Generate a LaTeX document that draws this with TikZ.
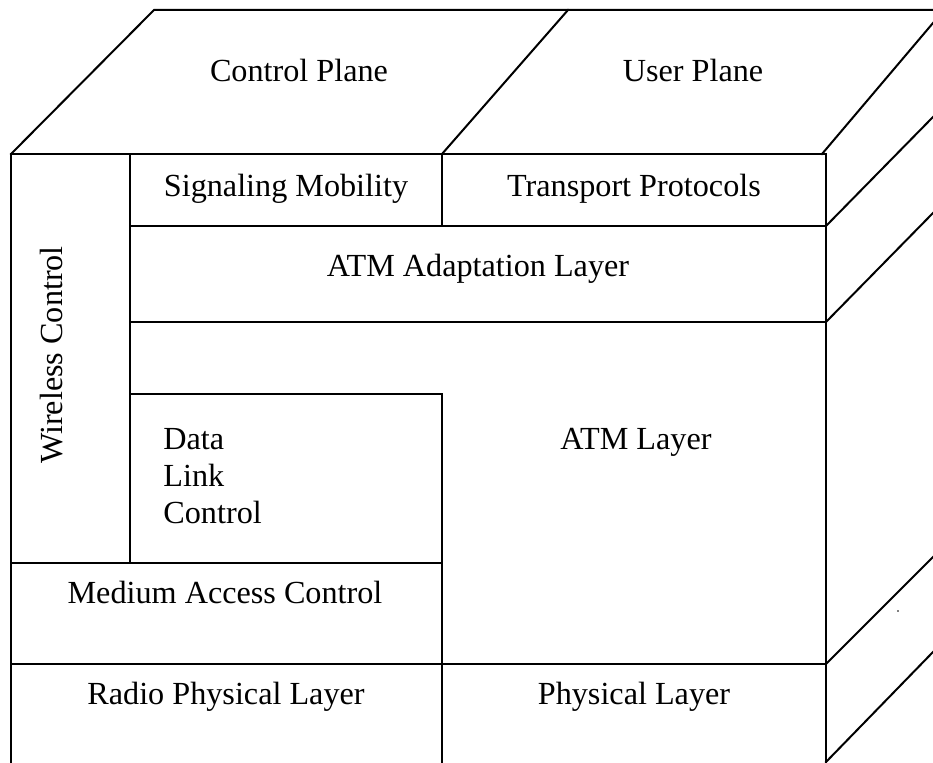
\documentclass[tikz,border=0pt]{standalone}
\usepackage{fontspec}
\setmainfont{Liberation Serif}
\begin{document}
\begin{tikzpicture}[x=0.5pt,y=-0.5pt,
  edge/.style={line width=1pt, line cap=rect},
  lbl/.style={anchor=base, inner sep=0pt, font=\fontsize{16.1}{18.3}\selectfont}]
\useasboundingbox (0,0) rectangle (933,763);
% key corners of the block
\coordinate (ftl) at (11,154);
\coordinate (ftr) at (826,154);
\coordinate (fbl) at (11,763);
\coordinate (fbr) at (826,763);
% top face
\draw[edge] (ftl) -- (154,10) -- (933,10);
\draw[edge] (442,154) -- (568,10);
\draw[edge] (822,154) -- (933,23);
% front face outline (open at the bottom)
\draw[edge] (fbl) -- (ftl) -- (ftr) -- (fbr);
% right side face edges
\draw[edge] (826,226) -- (933,117);
\draw[edge] (826,322) -- (933,213);
\draw[edge] (826,664) -- (933,557);
\draw[edge] (826,762) -- (933,652);
\fill (898,611) circle (0.8);
% front face layers
\draw[edge] (130,154) -- (130,563);
\draw[edge] (442,154) -- (442,226);
\draw[edge] (130,226) -- (826,226);
\draw[edge] (130,322) -- (826,322);
\draw[edge] (130,394) -- (442,394) -- (442,763);
\draw[edge] (11,563) -- (442,563);
\draw[edge] (11,664) -- (826,664);
% labels
\node[lbl] (cp)  at (299,82)  {Control Plane};
\node[lbl] (up)  at (693,82)  {User Plane};
\node[lbl] (sm)  at (286,197) {Signaling Mobility};
\node[lbl] (tp)  at (634,197) {Transport Protocols};
\node[lbl] (aal) at (478,277) {ATM Adaptation Layer};
\node[lbl, rotate=90] (wc) at (62,355) {Wireless Control};
\node[lbl, anchor=base west] (dl1) at (163,450) {Data};
\node[lbl, anchor=base west] (dl2) at (163,487) {Link};
\node[lbl, anchor=base west] (dl3) at (163,524) {Control};
\node[lbl] (atm) at (636,450) {ATM Layer};
\node[lbl] (mac) at (225,604) {Medium Access Control};
\node[lbl] (rpl) at (226,705) {Radio Physical Layer};
\node[lbl] (pl)  at (634,705) {Physical Layer};
\end{tikzpicture}
\end{document}
